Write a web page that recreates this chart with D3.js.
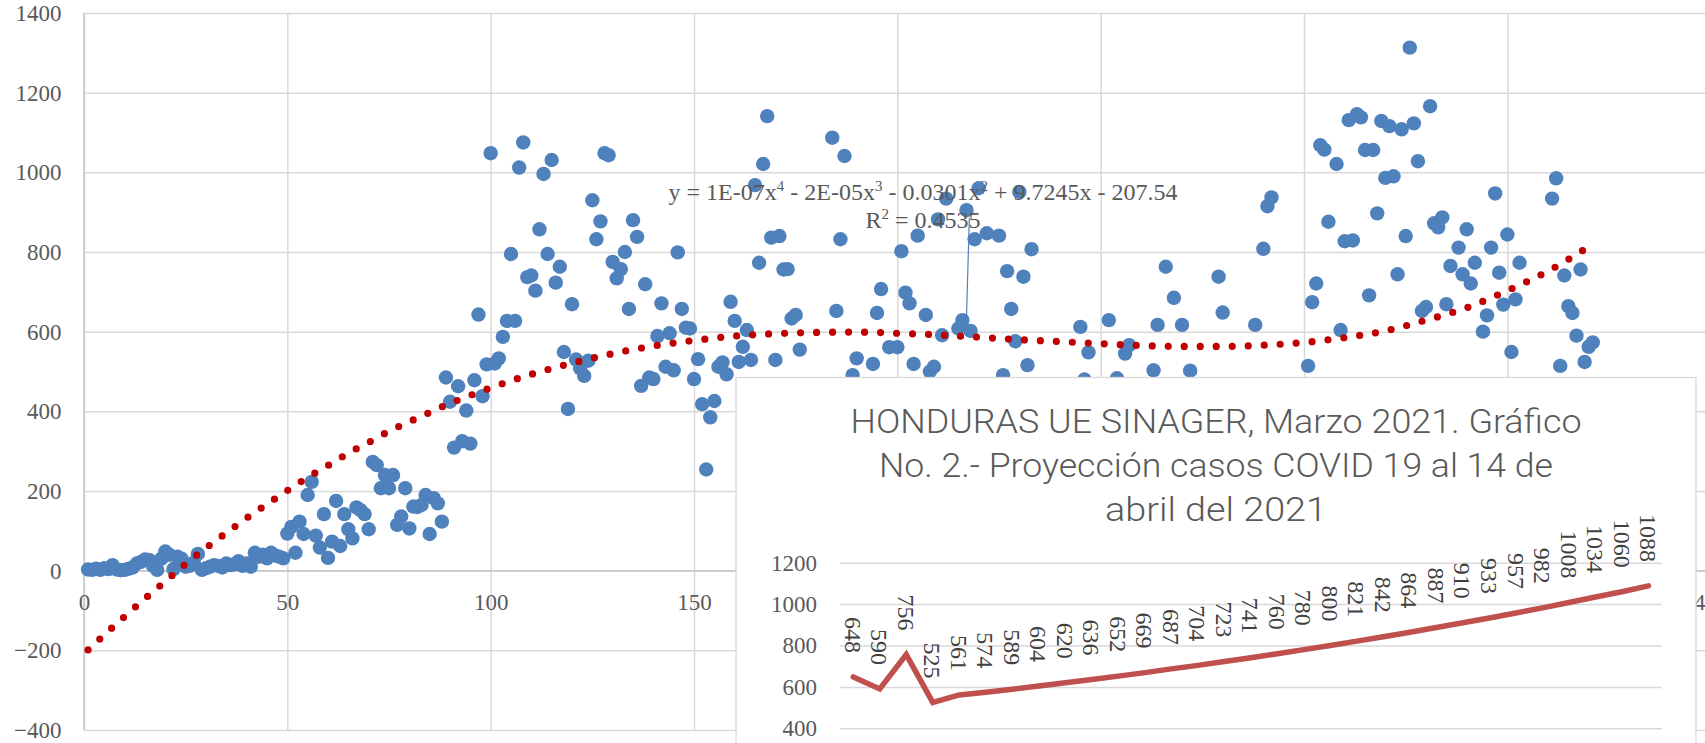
<!doctype html>
<html lang="es">
<head>
<meta charset="utf-8">
<title>HONDURAS UE SINAGER, Marzo 2021 - Proyección casos COVID 19</title>
<script src="https://d3js.org/d3.v7.min.js"></script>
<style>
body {
  margin: 0;
  background: #fff;
  overflow: hidden;
}
svg {
  display: block;
}
text {
  font-family: 'Liberation Serif', 'DejaVu Serif', serif;
  fill: #595959;
}
.grid line {
  stroke: #d9d9d9;
  stroke-width: 1.5;
}
.grid .domain {
  display: none;
}
.axis .domain {
  display: none;
}
.axis text {
  font-size: 23px;
}
.title {
  font-family: 'Liberation Sans Narrow', 'Roboto', 'Liberation Sans', sans-serif;
  font-size: 34px;
  font-weight: 300;
}
.eq {
  font-size: 24px;
}
.label {
  font-size: 24px;
  fill: #404040;
}
</style>
</head>
<body>
<svg id="chart" width="1705" height="743"></svg>
<script>
// casos diarios, dia 1 .. 371
const casos = [
  3, 2, 5, 2, 6, 4, 14, 3, 1, 2,
  5, 8, 18, 22, 28, 27, 12, 2, 30, 48,
  40, 4, 35, 30, 10, 12, 20, 42, 2, 6,
  10, 14, 12, 8, 18, 14, 16, 24, 12, 18,
  10, 45, 35, 40, 31, 45, 38, 35, 31, 93,
  110, 45, 123, 92, 190, 223, 88, 58, 142, 32,
  73, 175, 62, 142, 104, 81, 159, 152, 142, 104,
  273, 265, 207, 240, 207, 240, 115, 136, 207, 106,
  161, 160, 165, 190, 92, 182, 169, 123, 485, 424,
  309, 463, 325, 402, 319, 478, 643, 438, 518, 1048,
  520, 533, 587, 627, 795, 627, 1012, 1075, 737, 741,
  703, 857, 996, 795, 1031, 723, 763, 549, 406, 669,
  530, 508, 489, 527, 930, 832, 877, 1048, 1043, 775,
  734, 757, 800, 657, 880, 838, 464, 719, 485, 481,
  589, 671, 512, 596, 503, 799, 657, 610, 608, 481,
  531, 418, 254, 385, 426, 512, 523, 493, 675, 627,
  524, 562, 604, 529, 968, 773, 1021, 1141, 836, 529,
  840, 756, 757, 633, 642, 555, 430, 410, 445, 380,
  420, 440, 395, 1087, 652, 832, 1041, 425, 491, 533,
  440, 410, 450, 519, 647, 707, 430, 561, 455, 561,
  802, 698, 671, 519, 841, 420, 642, 500, 512, 882,
  591, 934, 440, 415, 608, 629, 905, 602, 832, 960,
  435, 847, 400, 450, 841, 491, 752, 657, 576, 951,
  738, 516, 807, 430, 390, 445, 410, 455, 380, 425,
  440, 400, 450, 420, 612, 480, 548, 410, 445, 395,
  430, 629, 450, 483, 415, 545, 566, 440, 400, 455,
  420, 445, 503, 617, 430, 763, 410, 685, 450, 617,
  400, 502, 440, 420, 455, 395, 430, 445, 738, 648,
  410, 450, 425, 390, 440, 455, 420, 617, 445, 808,
  915, 937, 430, 405, 450, 420, 440, 395, 455, 425,
  514, 674, 721, 1068, 1057, 876, 445, 1021, 604, 827,
  1131, 829, 1146, 1138, 1056, 691, 1056, 897, 1129, 986,
  1116, 990, 744, 1108, 840, 1313, 1123, 1028, 652, 662,
  1166, 872, 862, 887, 669, 765, 440, 811, 744, 857,
  721, 773, 455, 600, 641, 811, 947, 748, 668, 844,
  549, 681, 773, 430, 410, 450, 425, 445, 400, 455,
  934, 985, 514, 741, 664, 647, 590, 756, 524, 562,
  573
];

// linea de tendencia polinomica
const tendenciaDia = [1, 5, 10, 15, 20, 25, 30, 35, 40, 45, 50, 55, 60, 65, 70, 75, 80, 85, 90, 95,
  100, 110, 120, 130, 140, 150, 160, 170, 180, 190, 200, 210, 220, 230, 240, 250, 260, 270, 280,
  290, 300, 310, 320, 330, 340, 350, 360, 370];
const tendenciaValor = [-199, -161, -115, -70, -27, 17, 57, 95, 132, 167, 201, 234, 264, 295, 322, 350,
  374, 397, 420, 440, 459, 493, 521, 545, 564, 578, 589, 595, 598, 599, 596, 592, 586, 580, 575,
  570, 565, 563, 563, 566, 573, 585, 602, 629, 660, 703, 752, 813];

// proyeccion al 14 de abril (grafico No. 2)
const proyeccion = [648, 590, 756, 525, 561, 574, 589, 604, 620, 636, 652, 669, 687, 704, 723,
  741, 760, 780, 800, 821, 842, 864, 887, 910, 933, 957, 982, 1008, 1034, 1060, 1088];

const yTicks = [-400, -200, 0, 200, 400, 600, 800, 1000, 1200, 1400];
const xTicks = [0, 50, 100, 150, 200, 250, 300, 350, 400];
const insetTicks = [400, 600, 800, 1000, 1200];
const titleLines = ['HONDURAS UE SINAGER, Marzo 2021. Gráfico',
  'No. 2.- Proyección casos COVID 19 al 14 de', 'abril del 2021'];
const leader = [[217, 637], [217.7, 885]];

const svg = d3.select('#chart');
const fmt = d3.format('d');

const x = d3.scaleLinear().domain([0, 400]).range([84, 1710.7]);
const y = d3.scaleLinear().domain([-400, 1400]).range([730, 13]);

// grid
svg.append('g')
  .attr('class', 'grid')
  .attr('transform', `translate(0, ${y(-400)})`)
  .call(d3.axisBottom(x).tickValues(xTicks).tickSize(-(y(-400) - y(1400))).tickFormat(''));

svg.append('g')
  .attr('class', 'grid')
  .attr('transform', `translate(${x(0)}, 0)`)
  .call(d3.axisLeft(y).tickValues(yTicks).tickSize(-(x(400) - x(0))).tickFormat(''));

svg.append('line')
  .attr('x1', x(0)).attr('x2', x(400))
  .attr('y1', y(0)).attr('y2', y(0))
  .attr('stroke', '#c9c9c9').attr('stroke-width', 1.5);

svg.append('line')
  .attr('x1', x(0)).attr('x2', x(0))
  .attr('y1', y(1400)).attr('y2', y(-400))
  .attr('stroke', '#c9c9c9').attr('stroke-width', 1.5);

// axis labels
svg.append('g')
  .attr('class', 'axis')
  .attr('transform', `translate(${x(0)}, 0)`)
  .call(d3.axisLeft(y).tickValues(yTicks).tickSize(0).tickPadding(22.5).tickFormat(fmt))
  .selectAll('text').attr('fill', '#595959');

svg.append('g')
  .attr('class', 'axis')
  .attr('transform', `translate(0, ${y(0)})`)
  .call(d3.axisBottom(x).tickValues(xTicks).tickSize(0).tickPadding(23).tickFormat(fmt))
  .selectAll('text').attr('fill', '#595959');

// points
svg.append('g')
  .selectAll('circle')
  .data(casos)
  .join('circle')
  .attr('cx', (d, i) => x(i + 1))
  .attr('cy', (d) => y(d))
  .attr('r', 7.2)
  .attr('fill', '#4f81bd');

// trend line
const trend = tendenciaDia.map((d, i) => [d, tendenciaValor[i]]);
svg.append('path')
  .datum(trend)
  .attr('fill', 'none')
  .attr('stroke', '#c00000')
  .attr('stroke-width', 7.2)
  .attr('stroke-linecap', 'round')
  .attr('stroke-dasharray', '0 16')
  .attr('d', d3.line().x((d) => x(d[0])).y((d) => y(d[1])).curve(d3.curveMonotoneX));

svg.append('path')
  .datum(leader)
  .attr('fill', 'none')
  .attr('stroke', '#4f81bd')
  .attr('stroke-width', 1.2)
  .attr('d', d3.line().x((d) => x(d[0])).y((d) => y(d[1])));

// trend equation
const eq = svg.append('text')
  .attr('class', 'eq')
  .attr('x', 923)
  .attr('y', 200)
  .attr('text-anchor', 'middle');
const eqParts = [['y = 1E-07x', false], ['4', true], [' - 2E-05x', false], ['3', true],
  [' - 0.0301x', false], ['2', true], [' + 9.7245x - 207.54', false]];
eqParts.forEach(([t, sup], i) => {
  const prevSup = i > 0 && eqParts[i - 1][1];
  eq.append('tspan')
    .attr('dy', sup ? -9 : (prevSup ? 9 : 0))
    .attr('font-size', sup ? 15 : null)
    .text(t);
});
const r2 = svg.append('text')
  .attr('class', 'eq')
  .attr('x', 923)
  .attr('y', 227.5)
  .attr('text-anchor', 'middle');
r2.append('tspan').text('R');
r2.append('tspan').attr('dy', -9).attr('font-size', 15).text('2');
r2.append('tspan').attr('dy', 9).text(' = 0.4535');

// inset chart
const inset = svg.append('g');

inset.append('rect')
  .attr('x', 736)
  .attr('y', 377.5)
  .attr('width', 960)
  .attr('height', 420)
  .attr('fill', '#fff')
  .attr('stroke', '#d9d9d9')
  .attr('stroke-width', 1.3);

const titleWidths = [731, 674, 222];
inset.selectAll('text.title')
  .data(titleLines)
  .join('text')
  .attr('class', 'title')
  .attr('x', 1216)
  .attr('y', (d, i) => 433.3 + i * 43.7)
  .attr('text-anchor', 'middle')
  .attr('textLength', (d, i) => titleWidths[i])
  .attr('lengthAdjust', 'spacingAndGlyphs')
  .text((d) => d);

const ix = d3.scaleBand()
  .domain(proyeccion.map((d, i) => i))
  .range([840, 1661.7]);
const iy = d3.scaleLinear().domain([0, 1200]).range([811.1, 562.7]);

inset.append('g')
  .attr('class', 'grid')
  .attr('transform', 'translate(840, 0)')
  .call(d3.axisLeft(iy).tickValues(insetTicks).tickSize(-(1661.7 - 840)).tickFormat(''));

inset.append('g')
  .attr('class', 'axis')
  .attr('transform', 'translate(840, 0)')
  .call(d3.axisLeft(iy).tickValues(insetTicks).tickSize(0).tickPadding(23).tickFormat(fmt))
  .selectAll('text').attr('fill', '#595959');

const cx = (i) => ix(i) + ix.bandwidth() / 2;

inset.append('path')
  .datum(proyeccion)
  .attr('fill', 'none')
  .attr('stroke', '#c0504d')
  .attr('stroke-width', 5.5)
  .attr('stroke-linecap', 'round')
  .attr('d', d3.line().x((d, i) => cx(i)).y((d) => iy(d)));

inset.selectAll('text.label')
  .data(proyeccion)
  .join('text')
  .attr('class', 'label')
  .attr('text-anchor', 'end')
  .attr('dy', '0.35em')
  .attr('transform', (d, i) => `translate(${cx(i)}, ${iy(d) - 24}) rotate(90)`)
  .text((d) => d);
</script>
</body>
</html>
